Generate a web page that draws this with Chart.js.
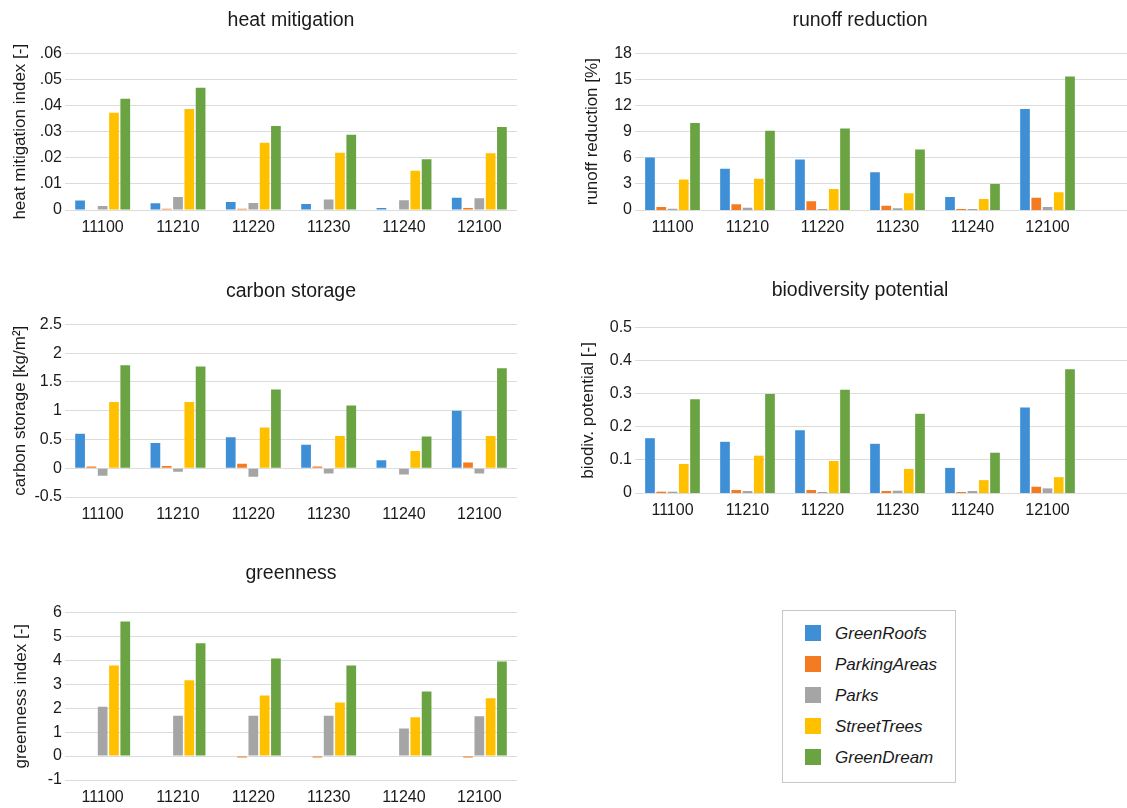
<!DOCTYPE html>
<html>
<head>
<meta charset="utf-8">
<script src="https://cdn.jsdelivr.net/npm/chart.js@4"></script>
<style>
  body { margin: 0; background: #fff; width: 1127px; height: 808px; position: relative; overflow: hidden; font-family: 'Liberation Sans', Arial, sans-serif; }
  canvas { position: absolute; }
  #legend { position: absolute; left: 782px; top: 610px; width: 172px; height: 171px; border: 1px solid #c8c8c8; box-sizing: content-box; }
  .item { position: absolute; left: 22px; height: 20px; font-style: italic; font-size: 17px; color: #1a1a1a; line-height: 20px; }
  .item span { display: inline-block; width: 16px; height: 16px; vertical-align: -2px; margin-right: 14px; }
</style>
</head>
<body>
<canvas id="heat" width="530" height="240" style="left:0;top:0"></canvas>
<canvas id="runoff" width="564" height="240" style="left:563px;top:0"></canvas>
<canvas id="carbon" width="530" height="256" style="left:0;top:271px"></canvas>
<canvas id="biodiv" width="564" height="253" style="left:563px;top:270px"></canvas>
<canvas id="green" width="530" height="255" style="left:0;top:553px"></canvas>
<div id="legend"></div>
<script>
// x categories (land use codes)
const categories = ['11100', '11210', '11220', '11230', '11240', '12100'];
const seriesNames = ['GreenRoofs', 'ParkingAreas', 'Parks', 'StreetTrees', 'GreenDream'];
const seriesColors = ['#3E8FD5', '#F47B22', '#A5A5A5', '#FFC000', '#6AA342'];

// values, one row per series (same order as seriesNames)
const heatMitigation = [
  [0.0036, 0.0026, 0.0031, 0.0023, 0.0008, 0.0047],
  [0, 0.0005, 0.0005, 0, 0, 0.0008],
  [0.0015, 0.0050, 0.0027, 0.0040, 0.0037, 0.0045],
  [0.0373, 0.0387, 0.0258, 0.0219, 0.0150, 0.0217],
  [0.0426, 0.0468, 0.0322, 0.0288, 0.0194, 0.0318]
];
const runoffReduction = [
  [6.04, 4.73, 5.8, 4.35, 1.5, 11.6],
  [0.35, 0.65, 1.0, 0.5, 0.12, 1.42],
  [0.15, 0.27, 0.12, 0.2, 0.12, 0.35],
  [3.5, 3.58, 2.42, 1.92, 1.27, 2.04],
  [10.0, 9.12, 9.38, 6.96, 3.0, 15.35]
];
const carbonStorage = [
  [0.60, 0.44, 0.54, 0.41, 0.14, 1.0],
  [0.03, 0.04, 0.08, 0.03, 0, 0.10],
  [-0.13, -0.06, -0.15, -0.09, -0.11, -0.09],
  [1.15, 1.15, 0.71, 0.56, 0.30, 0.56],
  [1.79, 1.77, 1.37, 1.09, 0.55, 1.74]
];
const biodivPotential = [
  [0.166, 0.155, 0.19, 0.149, 0.076, 0.259],
  [0.004, 0.009, 0.009, 0.006, 0.003, 0.019],
  [0.004, 0.006, 0.003, 0.007, 0.006, 0.014],
  [0.088, 0.113, 0.097, 0.073, 0.039, 0.048],
  [0.284, 0.300, 0.313, 0.240, 0.122, 0.375]
];
const greenness = [
  [0, 0, 0, 0, 0, 0],
  [0, 0, -0.06, -0.06, 0, -0.06],
  [2.06, 1.68, 1.68, 1.68, 1.15, 1.66],
  [3.78, 3.17, 2.53, 2.24, 1.62, 2.41],
  [5.62, 4.71, 4.07, 3.78, 2.70, 3.95]
];

const FONT = "'Liberation Sans', Arial, sans-serif";
const TEXT = '#1a1a1a';
const GRID = '#dcdcdc';

// right-hand panels: gridlines run on to the edge of the picture
const extendGrid = {
  id: 'extendGrid',
  beforeDatasetsDraw(chart, args, opts) {
    if (!opts.on) return;
    const { ctx, chartArea, scales } = chart;
    ctx.save();
    ctx.strokeStyle = GRID;
    ctx.lineWidth = 1;
    scales.y.ticks.forEach(t => {
      const py = Math.round(scales.y.getPixelForValue(t.value) - 0.5) + 0.5;
      ctx.beginPath();
      ctx.moveTo(chartArea.left, py);
      ctx.lineTo(chart.width, py);
      ctx.stroke();
    });
    ctx.restore();
  }
};

function drawPanel(id, p) {
  new Chart(document.getElementById(id), {
    type: 'bar',
    data: {
      labels: categories,
      datasets: seriesNames.map((name, i) => ({
        label: name,
        data: p.values[i],
        backgroundColor: seriesColors[i],
        categoryPercentage: 0.75,
        barPercentage: 0.86
      }))
    },
    options: {
      responsive: false,
      animation: false,
      layout: { padding: { right: p.padRight } },
      plugins: {
        legend: { display: false },
        tooltip: { enabled: false },
        title: {
          display: true,
          text: p.title,
          fullSize: false,
          color: TEXT,
          font: { family: FONT, size: 19.5, weight: 'normal' },
          padding: { top: 9, bottom: p.titleGap }
        },
        extendGrid: { on: !!p.extend }
      },
      scales: {
        x: {
          grid: { display: false, drawTicks: false },
          border: { display: false },
          ticks: { color: TEXT, font: { family: FONT, size: 16 }, padding: 7.5, maxRotation: 0 },
          afterFit: s => { s.height = p.xHeight || 30; }
        },
        y: {
          min: p.min,
          max: p.max,
          grid: { display: !p.extend, color: GRID, drawTicks: false },
          border: { display: false },
          ticks: { stepSize: p.step, color: TEXT, font: { family: FONT, size: 16 }, padding: 3, callback: p.fmt },
          title: {
            display: true,
            text: p.yTitle,
            color: TEXT,
            font: { family: FONT, size: 17 },
            padding: { top: p.yTitlePad, bottom: 0 }
          },
          afterFit: s => { s.width = p.yWidth; }
        }
      }
    },
    plugins: [extendGrid]
  });
}

const oneDecimal = v => String(Math.round(v * 10) / 10);

drawPanel('heat', {
  title: 'heat mitigation', yTitle: 'heat mitigation index [-]', values: heatMitigation,
  min: 0, max: 0.06, step: 0.01, yWidth: 65, padRight: 13, titleGap: 21, yTitlePad: 10,
  fmt: v => v === 0 ? '0' : v.toFixed(2).replace(/^0/, '')
});
drawPanel('runoff', {
  title: 'runoff reduction', yTitle: 'runoff reduction [%]', values: runoffReduction,
  min: 0, max: 18, step: 3, yWidth: 72, padRight: 42, titleGap: 21, yTitlePad: 19, extend: true,
  fmt: v => String(Math.round(v))
});
drawPanel('carbon', {
  title: 'carbon storage', yTitle: 'carbon storage [kg/m²]', values: carbonStorage,
  min: -0.5, max: 2.5, step: 0.5, yWidth: 65, padRight: 13, titleGap: 21, yTitlePad: 10,
  fmt: oneDecimal
});
drawPanel('biodiv', {
  title: 'biodiversity potential', yTitle: 'biodiv. potential [-]', values: biodivPotential,
  min: 0, max: 0.5, step: 0.1, yWidth: 72, padRight: 42, titleGap: 25.5, yTitlePad: 15, extend: true,
  fmt: oneDecimal
});
drawPanel('green', {
  title: 'greenness', yTitle: 'greenness index [-]', values: greenness,
  min: -1, max: 6, step: 1, yWidth: 65, padRight: 13, titleGap: 27, yTitlePad: 11, xHeight: 28,
  fmt: v => String(Math.round(v))
});

// legend box
const legend = document.getElementById('legend');
seriesNames.forEach((name, i) => {
  const row = document.createElement('div');
  row.className = 'item';
  row.style.top = (13 + i * 31) + 'px';
  row.innerHTML = '<span style="background:' + seriesColors[i] + '"></span>' + name;
  legend.appendChild(row);
});
</script>
</body>
</html>
